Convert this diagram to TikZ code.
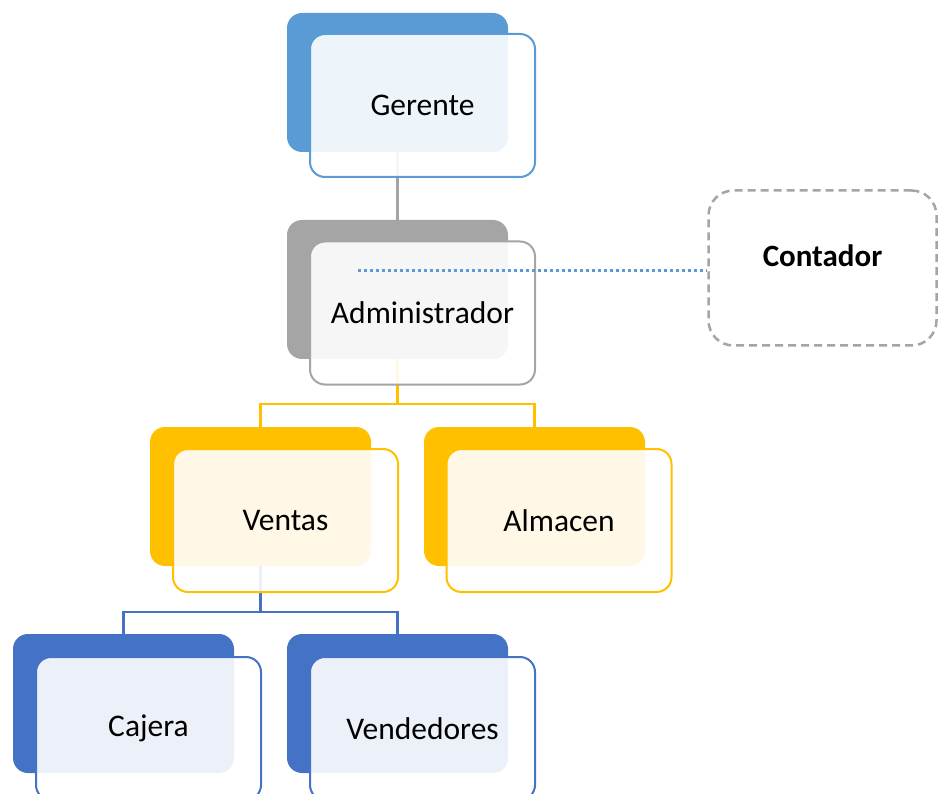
\documentclass[tikz,border=0pt]{standalone}
\usepackage{fontspec}
\setmainfont{Carlito}
\begin{document}
\begin{tikzpicture}[x=1pt,y=-1pt,
  backbox/.style={draw=none, fill=#1, rounded corners=15pt,
    minimum width=221pt, minimum height=139pt, inner sep=0pt, outer sep=0pt},
  frontbox/.style={draw=#1, line width=2pt, fill=white, fill opacity=0.9,
    text opacity=1, rounded corners=15pt, minimum width=225pt,
    minimum height=143pt, inner sep=0pt,
    font=\fontsize{31.5}{38}\selectfont},
  link/.style={draw=#1, line width=2.2pt}
]
\useasboundingbox (0,0) rectangle (940,794);
\clip (0,0) rectangle (940,794);
\definecolor{cgerente}{HTML}{5B9BD5}
\definecolor{cadmin}{HTML}{A5A5A5}
\definecolor{cventas}{HTML}{FFC000}
\definecolor{cstaff}{HTML}{4472C4}

% back layer of each card
\node[backbox=cgerente] (gerB) at (397.5,82.5) {};
\node[backbox=cadmin]   (admB) at (397.5,289.5) {};
\node[backbox=cventas]  (venB) at (260.5,496.5) {};
\node[backbox=cventas]  (almB) at (534.5,496.5) {};
\node[backbox=cstaff]   (cajB) at (123.5,703.5) {};
\node[backbox=cstaff]   (vndB) at (397.5,703.5) {};

% hierarchy connectors
\draw[link=cadmin] (gerB.south) -- (admB.north);
\draw[link=cventas] (admB.south) -- ++(0,45) -| (venB.north);
\draw[link=cventas] (admB.south) -- ++(0,45) -| (almB.north);
\draw[link=cstaff] (venB.south) -- ++(0,46) -| (cajB.north);
\draw[link=cstaff] (venB.south) -- ++(0,46) -| (vndB.north);

% front layer with labels
\node[frontbox=cgerente] (gerF) at (422.5,105.5) {Gerente};
\node[frontbox=cadmin]   (admF) at (422.5,313) {Administrador};
\node[frontbox=cventas]  (venF) at (285.5,520.5) {Ventas};
\node[frontbox=cventas]  (almF) at (559,520.5) {Almacen};
\node[frontbox=cstaff]   (cajF) at (148.5,728.5) {Cajera};
\node[frontbox=cstaff]   (vndF) at (422.5,728.5) {Vendedores};

% advisory position, label set in the upper part of the box
\node[draw=cadmin, line width=2.5pt, dash pattern=on 8pt off 5pt,
  rounded corners=25pt, minimum width=228pt, minimum height=155pt,
  inner sep=0pt, text height=22pt, text depth=24pt,
  font=\fontsize{31}{38}\selectfont\bfseries]
  (cont) at (822.5,268) {Contador};
\coordinate (dl) at (358,271);
\draw[cgerente, line width=3pt, dash pattern=on 3pt off 3pt] (dl) -- (dl -| cont.west);
\end{tikzpicture}
\end{document}
